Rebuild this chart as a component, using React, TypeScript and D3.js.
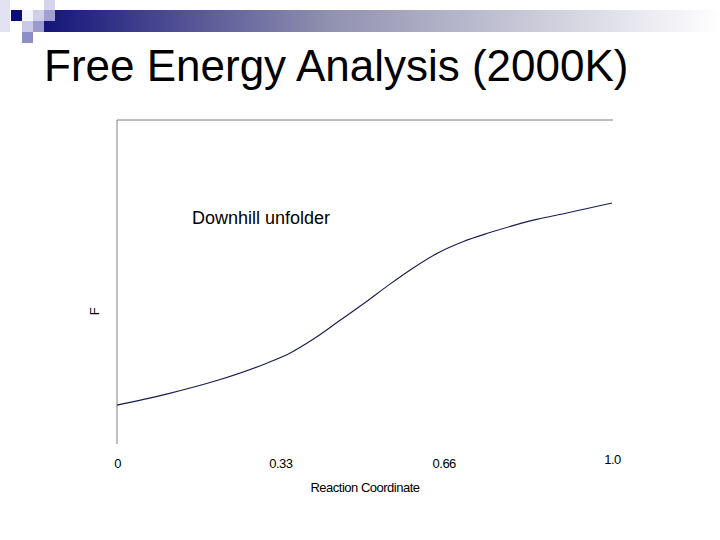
import * as d3 from 'd3';
import { useEffect, useRef } from 'react';

// reaction coordinate (x) and free energy (arbitrary units)
const coord = [0, 0.1, 0.2, 0.3, 0.35, 0.4, 0.45, 0.5, 0.55, 0.6, 0.65, 0.7, 0.75, 0.8, 0.85, 0.9, 0.95, 1.0];
const energy = [0.12, 0.154, 0.195, 0.248, 0.281, 0.327, 0.381, 0.435, 0.492, 0.545, 0.591, 0.625, 0.651, 0.674, 0.694, 0.71, 0.727, 0.744];

const tickValues = [0, 0.33, 0.66, 1.0];
const tickLabels = ['0', '0.33', '0.66', '1.0'];

const title = 'Free Energy Analysis (2000K)';
const annotation = 'Downhill unfolder';
const xLabel = 'Reaction Coordinate';
const yLabel = 'F';

export default function App() {
  const width = 720;
  const height = 540;
  const marginTop = 120;
  const marginRight = 108;
  const marginBottom = 96;
  const marginLeft = 117;

  const ref = useRef<HTMLDivElement>(null);

  const x = d3.scaleLinear().domain([0, 1]).range([marginLeft, width - marginRight]);
  const y = d3.scaleLinear().domain([0, 1]).range([height - marginBottom, marginTop]);

  useEffect(() => {
    if (!ref.current) return;

    const svg = d3
      .create('svg')
      .attr('width', width)
      .attr('height', height)
      .style('position', 'absolute')
      .style('left', 0)
      .style('top', 0)
      .style('background', '#fff')
      .style('font-family', 'Arial, "Liberation Sans", sans-serif');

    // slide decoration: gradient bar + checker squares
    const grad = svg
      .append('defs')
      .append('linearGradient')
      .attr('id', 'bar')
      .attr('x1', '0%')
      .attr('x2', '100%');
    grad.append('stop').attr('offset', '0%').attr('stop-color', '#14147a');
    grad.append('stop').attr('offset', '42%').attr('stop-color', '#9090b0');
    grad.append('stop').attr('offset', '100%').attr('stop-color', '#ffffff');

    svg.append('rect').attr('x', 43).attr('y', 10).attr('width', 677).attr('height', 22).attr('fill', 'url(#bar)');

    const squares = [
      { x: 0, y: 0, w: 10, h: 32, c: '#e2e2f2' },
      { x: 11, y: 10, w: 11, h: 11, c: '#0c0c7a' },
      { x: 22, y: 10, w: 11, h: 11, c: '#f4f4fa' },
      { x: 33, y: 10, w: 11, h: 11, c: '#cfcfea' },
      { x: 44, y: 0, w: 11, h: 10, c: '#d4d4ec' },
      { x: 44, y: 10, w: 11, h: 11, c: '#a0a0d2' },
      { x: 22, y: 21, w: 11, h: 11, c: '#cacae8' },
      { x: 33, y: 21, w: 11, h: 11, c: '#9a9acf' },
      { x: 22, y: 32, w: 11, h: 11, c: '#8e8ec6' },
    ];
    svg
      .append('g')
      .selectAll('rect')
      .data(squares)
      .join('rect')
      .attr('x', (d) => d.x)
      .attr('y', (d) => d.y)
      .attr('width', (d) => d.w)
      .attr('height', (d) => d.h)
      .attr('fill', (d) => d.c);

    // title
    svg
      .append('text')
      .attr('x', 44)
      .attr('y', 81)
      .attr('font-size', 44)
      .attr('fill', '#000')
      .text(title);

    // frame: left axis and top line
    svg
      .append('path')
      .attr('d', `M${x(0)},${y(0)}V${y(1)}H${x(1) + 1}`)
      .attr('fill', 'none')
      .attr('stroke', '#808080')
      .attr('stroke-width', 1);

    // x axis labels
    const xAxis = svg
      .append('g')
      .attr('transform', `translate(0,${height - marginBottom})`)
      .call(
        d3
          .axisBottom(x)
          .tickValues(tickValues)
          .tickSize(0)
          .tickPadding(15)
          .tickFormat((_, i) => tickLabels[i])
      );
    xAxis.select('.domain').remove();
    xAxis
      .selectAll('text')
      .attr('font-family', 'Arial, "Liberation Sans", sans-serif')
      .attr('font-size', 13)
      .attr('letter-spacing', -0.5)
      .attr('fill', '#000')
      .attr('dy', (_, i) => (i === tickValues.length - 1 ? '0.4em' : '0.71em'));

    svg
      .append('text')
      .attr('x', 365)
      .attr('y', 492)
      .attr('text-anchor', 'middle')
      .attr('font-size', 13)
      .attr('letter-spacing', -0.5)
      .attr('fill', '#000')
      .text(xLabel);

    svg
      .append('text')
      .attr('transform', `translate(99,${y(0.41)}) rotate(-90)`)
      .attr('text-anchor', 'middle')
      .attr('font-size', 13)
      .attr('fill', '#000')
      .text(yLabel);

    // annotation
    svg
      .append('text')
      .attr('x', 192)
      .attr('y', 224)
      .attr('font-size', 18)
      .attr('fill', '#000')
      .text(annotation);

    // free energy curve
    const line = d3
      .line<number>()
      .x((_, i) => x(coord[i]))
      .y((d) => y(d))
      .curve(d3.curveMonotoneX);

    svg
      .append('path')
      .datum(energy)
      .attr('fill', 'none')
      .attr('stroke', '#1a1a50')
      .attr('stroke-width', 1.1)
      .attr('d', line);

    ref.current.innerHTML = '';
    ref.current.appendChild(svg.node()!);
  }, [ref]);

  return <div ref={ref} />;
}
